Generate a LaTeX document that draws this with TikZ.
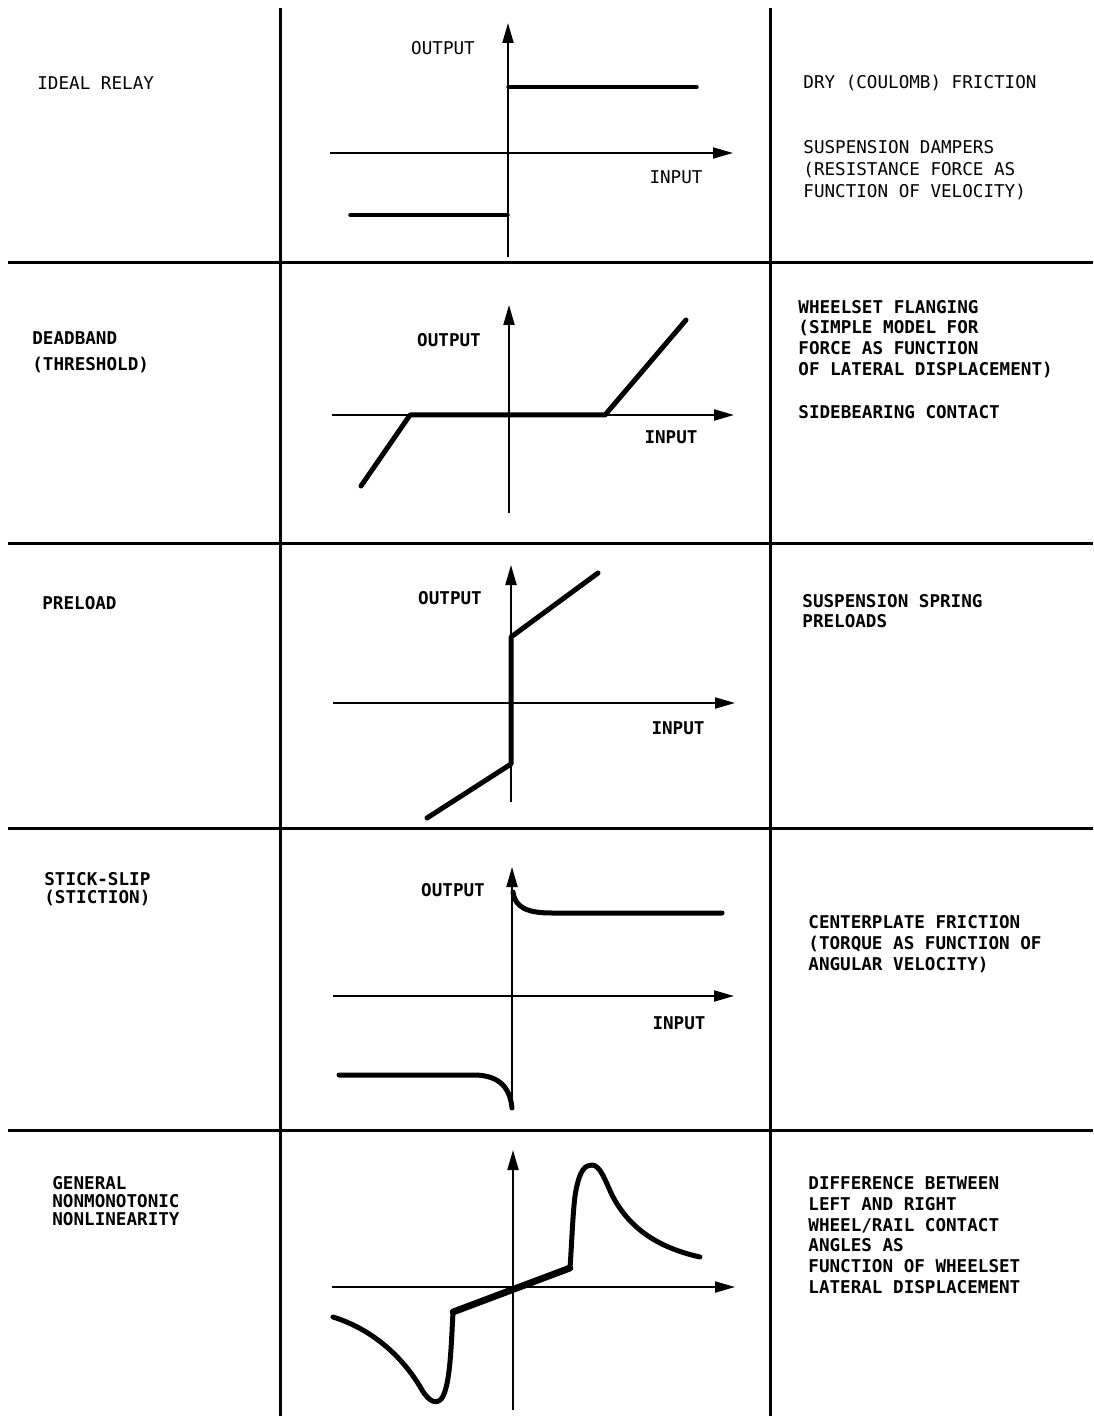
\documentclass[tikz,border=0pt]{standalone}
\usepackage{fontspec}
\newfontfamily\plotfont{DejaVu Sans Mono}
\usetikzlibrary{arrows.meta}

\begin{document}
\begin{tikzpicture}[x=0.5pt,y=-0.5pt,
    rule/.style={line width=1.5pt},
    axis/.style={line width=1pt,-{Triangle[length=10pt,width=5.5pt]}},
    curve/.style={line width=2.5pt,line cap=round,line join=round},
    txt/.style={font=\fontsize{8.8}{10.4}\selectfont\plotfont\bfseries,
      anchor=west,align=left,inner sep=0pt},
    thin txt/.style={txt,font=\fontsize{8.8}{11}\selectfont\plotfont},
    lbl/.style={font=\fontsize{8.8}{10}\selectfont\plotfont\bfseries,inner sep=0pt}]
    \useasboundingbox (0,0) rectangle (1093,1416);
    % table rules
    \coordinate (cl1) at (280,8);  \coordinate (cl2) at (280,1416);
    \coordinate (cr1) at (770,8);  \coordinate (cr2) at (770,1416);
    \draw[rule] (cl1) -- (cl2);
    \draw[rule] (cr1) -- (cr2);
    \foreach \n/\y in {1/263,2/543,3/828,4/1130} {
      \coordinate (hw\n) at (8,\y);
      \coordinate (he\n) at (1093,\y);
      \draw[rule] (hw\n) -- (he\n);
    }
    % axes of the five plots
    \foreach \r/\ox/\oy/\xw/\xe/\yn/\ys in {1/508/153/330/733/23/257,
        2/509/415/332/734/305/513, 3/511/703/333/735/565/802,
        4/512/996/333/734/867/1110, 5/513/1287/332/735/1150/1410} {
      \coordinate (O\r) at (\ox,\oy);
      \coordinate (W\r) at (\xw,\oy);  \coordinate (E\r) at (\xe,\oy);
      \coordinate (N\r) at (\ox,\yn);  \coordinate (S\r) at (\ox,\ys);
      \draw[axis] (W\r) -- (E\r);
      \draw[axis] (S\r) -- (N\r);
    }
    \node[lbl,font=\fontsize{8.8}{10}\selectfont\plotfont] (out1) at (443,48) {OUTPUT};
    \node[lbl,font=\fontsize{8.8}{10}\selectfont\plotfont] (in1) at (676,177) {INPUT};
    \node[lbl] (out2) at (449,340) {OUTPUT};
    \node[lbl] (in2) at (671,437) {INPUT};
    \node[lbl] (out3) at (450,598) {OUTPUT};
    \node[lbl] (in3) at (678,728) {INPUT};
    \node[lbl] (out4) at (453,890) {OUTPUT};
    \node[lbl] (in4) at (679,1023) {INPUT};

    % characteristics
    \draw[curve,line width=1.7pt] (508,87) -- (697,87);
    \draw[curve,line width=1.7pt] (350,215) -- (508,215);
    \draw[curve] (361,486) -- (410,415) -- (605,415) -- (686,320);
    \draw[curve] (427,818) -- (511,764) -- (511,637) -- (598,573);
    \draw[curve] (513,892) .. controls (515,908) and (528,913) .. (552,913) -- (722,913);
    \draw[curve] (339,1075) -- (476,1075) .. controls (500,1076) and (510,1088) .. (512,1108);
    \draw[curve] (333,1317) .. controls (375,1330) and (405,1360) .. (422,1390)
      .. controls (428,1400) and (436,1406) .. (442,1398)
      .. controls (450,1385) and (451,1350) .. (453,1312) -- (570,1268)
      .. controls (572,1240) and (573,1205) .. (576,1190)
      .. controls (580,1170) and (585,1165) .. (592,1165)
      .. controls (600,1165) and (605,1180) .. (612,1195)
      .. controls (630,1230) and (660,1248) .. (700,1257);
    \draw[curve,line width=3.4pt] (453,1312) -- (570,1268);

    % left column
    \node[thin txt] (n1) at (37,83) {IDEAL RELAY};
    \node[txt] (n2) at (32,352) {DEADBAND\\[0.5ex](THRESHOLD)};
    \node[txt] (n3) at (42,603) {PRELOAD};
    \node[txt,font=\fontsize{8.8}{8.8}\selectfont\plotfont\bfseries] (n4) at (44,889) {STICK-SLIP\\(STICTION)};
    \node[txt,font=\fontsize{8.8}{9}\selectfont\plotfont\bfseries] (n5) at (52,1201) {GENERAL\\NONMONOTONIC\\NONLINEARITY};

    % right column
    \node[thin txt] (u1a) at (803,83) {DRY (COULOMB) FRICTION};
    \node[thin txt] (u1b) at (803,170) {SUSPENSION DAMPERS\\(RESISTANCE FORCE AS\\FUNCTION OF VELOCITY)};
    \node[txt] (u2a) at (798,339) {WHEELSET FLANGING\\(SIMPLE MODEL FOR\\FORCE AS FUNCTION\\OF LATERAL DISPLACEMENT)};
    \node[txt] (u2b) at (798,412) {SIDEBEARING CONTACT};
    \node[txt] (u3) at (802,611) {SUSPENSION SPRING\\PRELOADS};
    \node[txt] (u4) at (808,944) {CENTERPLATE FRICTION\\(TORQUE AS FUNCTION OF\\ANGULAR VELOCITY)};
    \node[txt] (u5) at (808,1235) {DIFFERENCE BETWEEN\\LEFT AND RIGHT\\WHEEL/RAIL CONTACT\\ANGLES AS\\FUNCTION OF WHEELSET\\LATERAL DISPLACEMENT};
\end{tikzpicture}
\end{document}
